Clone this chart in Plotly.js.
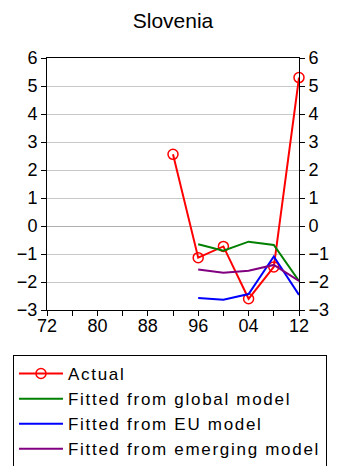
<!DOCTYPE html>
<html>
<head>
<meta charset="utf-8">
<script src="https://cdn.plot.ly/plotly-3.0.1.min.js"></script>
<style>html,body{margin:0;padding:0;background:#fff;}#chart{width:338px;height:466px;}
.legendtext{letter-spacing:1.7px;}</style>
</head>
<body>
<div id="chart"></div>
<script>
const years = [1992, 1996, 2000, 2004, 2008, 2012];
const fitYears = [1996, 2000, 2004, 2008, 2012];
const actual = [2.56, -1.13, -0.73, -2.6, -1.46, 5.3];
const globalModel = [-0.65, -0.88, -0.56, -0.68, -1.96];
const euModel = [-2.57, -2.63, -2.43, -1.09, -2.46];
const emergingModel = [-1.55, -1.67, -1.6, -1.39, -1.96];
const xTickVals = [1972, 1980, 1988, 1996, 2004, 2012];
const xTickText = ['72', '80', '88', '96', '04', '12'];
const seriesNames = ['Actual', 'Fitted from global model', 'Fitted from EU model', 'Fitted from emerging model'];

const font = 'Liberation Sans, Arial, sans-serif';
const traces = [
  {x: years, y: actual, name: seriesNames[0], mode: 'lines+markers', cliponaxis: false,
   line: {color: '#ff0000', width: 2},
   marker: {symbol: 'circle-open', size: 10, color: '#ff0000', line: {width: 1.5}}},
  {x: fitYears, y: globalModel, name: seriesNames[1], mode: 'lines', line: {color: '#008000', width: 2}},
  {x: fitYears, y: euModel, name: seriesNames[2], mode: 'lines', line: {color: '#0000ff', width: 2}},
  {x: fitYears, y: emergingModel, name: seriesNames[3], mode: 'lines', line: {color: '#800080', width: 2}},
  {x: years, y: actual, yaxis: 'y2', mode: 'lines', showlegend: false, hoverinfo: 'skip', line: {width: 0, color: 'rgba(0,0,0,0)'}}
];

const layout = {
  width: 338, height: 466,
  margin: {l: 47, r: 39, t: 58, b: 156, autoexpand: false},
  paper_bgcolor: '#fff', plot_bgcolor: '#fff',
  font: {family: font, size: 18, color: '#000'},
  title: {text: 'Slovenia', font: {family: font, size: 21, color: '#000'}, x: 0.5, xref: 'paper', y: 1 - 21/466, yref: 'container', yanchor: 'middle'},
  xaxis: {
    range: [1972, 2012], tickmode: 'array', tickvals: xTickVals, ticktext: xTickText,
    ticks: 'outside', ticklen: 5, tickcolor: '#000', showgrid: false, zeroline: false,
    showline: true, linecolor: '#000', linewidth: 1, mirror: true, ticklabelstandoff: -6,
    minor: {dtick: 4, tick0: 1972, ticks: 'outside', ticklen: 5, tickcolor: '#000', showgrid: false},
    tickfont: {size: 18}
  },
  yaxis: {
    range: [-3, 6], dtick: 1, tick0: 0, ticks: 'outside', ticklen: 5, tickcolor: '#000',
    showgrid: true, gridcolor: '#c8c8c8', gridwidth: 1, zeroline: true, zerolinecolor: '#b0b0b0', zerolinewidth: 1,
    showline: true, linecolor: '#000', linewidth: 1, tickfont: {size: 18}
  },
  yaxis2: {
    range: [-3, 6], dtick: 1, tick0: 0, overlaying: 'y', side: 'right', ticks: 'outside', ticklen: 5, tickcolor: '#000',
    showgrid: false, zeroline: false, showline: true, linecolor: '#000', linewidth: 1, tickfont: {size: 18}
  },
  showlegend: true,
  legend: {
    x: -0.135, xanchor: 'left', y: -0.1786, yanchor: 'top',
    bordercolor: '#000', borderwidth: 1, bgcolor: '#fff',
    font: {family: font, size: 17, color: '#000'}, itemwidth: 44, tracegroupgap: 0
  }
};

Plotly.newPlot('chart', traces, layout, {staticPlot: true, displayModeBar: false});
</script>
</body>
</html>
